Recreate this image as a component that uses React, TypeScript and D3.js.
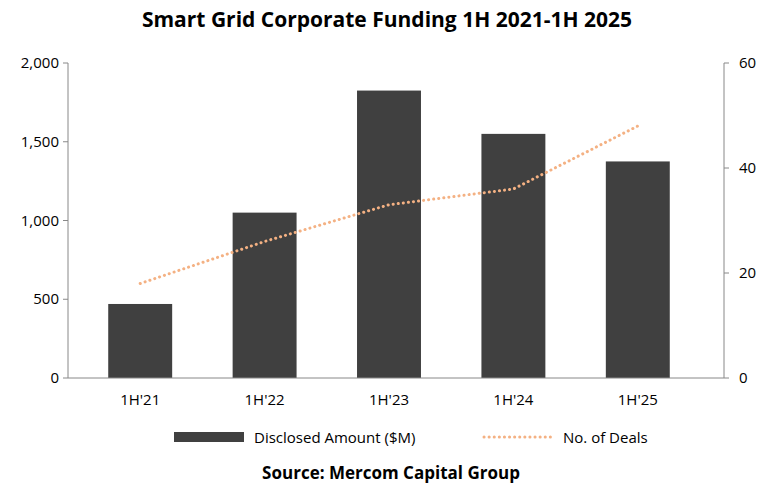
import React from 'react';
import * as d3 from 'd3';

const categories = ["1H'21", "1H'22", "1H'23", "1H'24", "1H'25"];
const amounts = [470, 1050, 1825, 1550, 1375];
const deals = [18, 26, 33, 36, 48];
const leftTicks = [0, 500, 1000, 1500, 2000];
const rightTicks = [0, 20, 40, 60];

const W = 774, H = 490;
const left = 68, right = 724, top = 63, bottom = 378;
const font = "'Open Sans', sans-serif";

export default function App() {
  const x = d3.scaleBand<string>().domain(categories).range([78, 700]).paddingInner(0.486).paddingOuter(0.243);
  const yL = d3.scaleLinear().domain([0, 2000]).range([bottom, top]);
  const yR = d3.scaleLinear().domain([0, 60]).range([bottom, top]);
  const line = d3.line<number>()
    .x((_, i) => (x(categories[i]) as number) + x.bandwidth() / 2)
    .y(d => yR(d));
  return (
    <svg width={W} height={H} style={{ position: 'absolute', left: 0, top: 0, background: '#fff' }} fontFamily={font}>
      <text x={W / 2} y={27} textAnchor="middle" fontSize={21} fontWeight="bold">Smart Grid Corporate Funding 1H 2021-1H 2025</text>
      {amounts.map((v, i) => (
        <rect key={i} x={x(categories[i])} y={yL(v)} width={x.bandwidth()} height={bottom - yL(v)} fill="#404040" />
      ))}
      <path d={line(deals) || ''} fill="none" stroke="#F4B183" strokeWidth={3} strokeDasharray="0.1 5" strokeLinecap="round" />
      <line x1={left} x2={left} y1={top} y2={bottom} stroke="#888" />
      <line x1={right} x2={right} y1={top} y2={bottom} stroke="#888" />
      <line x1={left} x2={right} y1={bottom} y2={bottom} stroke="#888" />
      {leftTicks.map(t => (
        <g key={t}>
          <line x1={left - 5} x2={left} y1={yL(t)} y2={yL(t)} stroke="#888" />
          <text x={left - 9} y={yL(t) + 5} textAnchor="end" fontSize={15}>{d3.format(',')(t)}</text>
        </g>
      ))}
      {rightTicks.map(t => (
        <g key={t}>
          <line x1={right} x2={right + 5} y1={yR(t)} y2={yR(t)} stroke="#888" />
          <text x={right + 15} y={yR(t) + 5} textAnchor="start" fontSize={15}>{t}</text>
        </g>
      ))}
      {categories.map(c => (
        <text key={c} x={(x(c) as number) + x.bandwidth() / 2} y={bottom + 27} textAnchor="middle" fontSize={15}>{c}</text>
      ))}
      <rect x={174} y={432} width={70} height={10} fill="#404040" />
      <text x={254} y={443} fontSize={15}>Disclosed Amount ($M)</text>
      <line x1={484} x2={553} y1={437} y2={437} stroke="#F4B183" strokeWidth={3} strokeDasharray="0.1 5" strokeLinecap="round" />
      <text x={563} y={443} fontSize={15}>No. of Deals</text>
      <text x={W / 2 + 4} y={479} textAnchor="middle" fontSize={17} fontWeight="bold">Source: Mercom Capital Group</text>
    </svg>
  );
}
